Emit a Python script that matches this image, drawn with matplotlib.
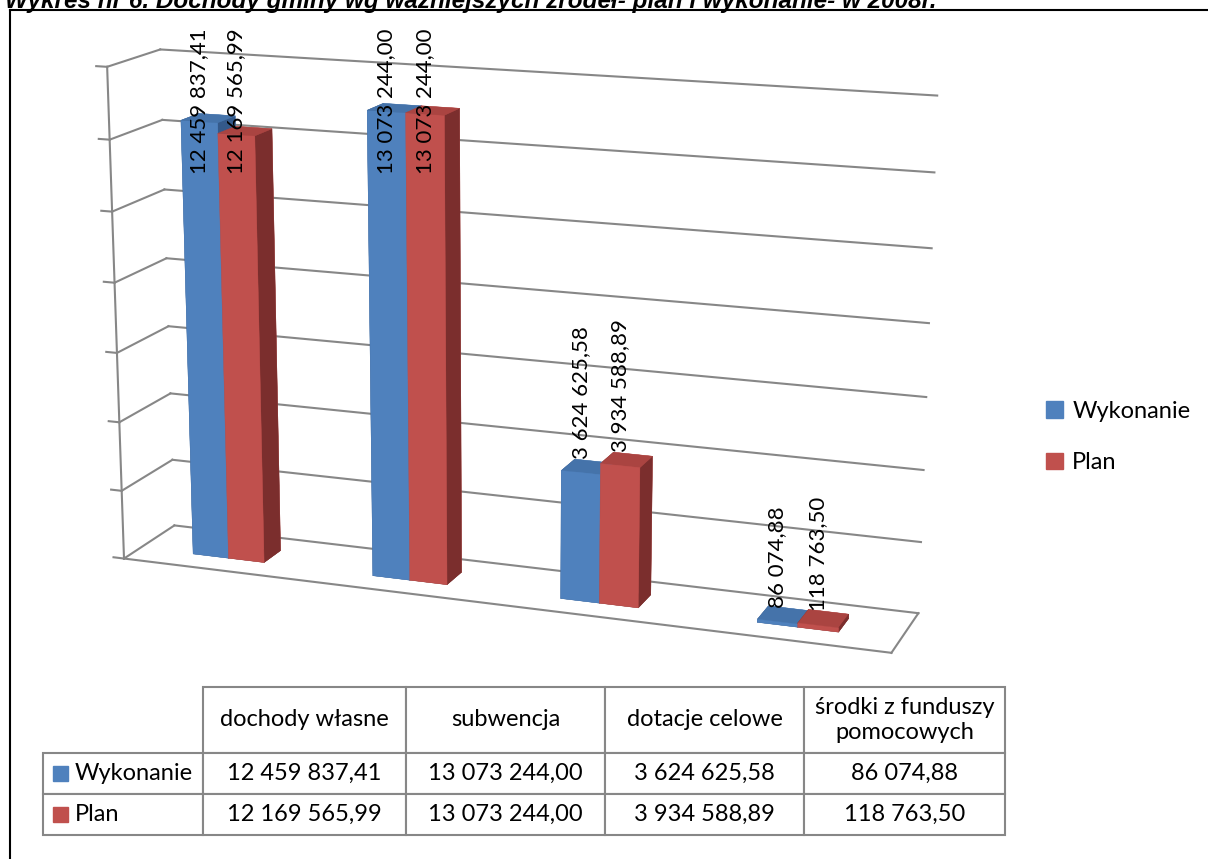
import numpy as np
import matplotlib.pyplot as plt
from matplotlib.patches import Patch, Rectangle
from matplotlib.lines import Line2D
from matplotlib.table import Table
from mpl_toolkits.mplot3d import proj3d

# dane
categories = ['dochody własne', 'subwencja', 'dotacje celowe', 'środki z funduszy\npomocowych']
series_names = ['Wykonanie', 'Plan']
wykonanie = [12459837.41, 13073244.00, 3624625.58, 86074.88]
plan = [12169565.99, 13073244.00, 3934588.89, 118763.50]
z_ticks = np.arange(0, 14_000_001, 2_000_000)

title = 'Wykres nr 6. Dochody gminy wg ważniejszych źródeł- plan i wykonanie- w 2008r.'

# kolory: przód, góra, bok
blue = ('#4F81BD', '#4573AA', '#34598A')
red = ('#C0504D', '#AA4441', '#7B2E2D')
grid_col = '#878787'
FONT = ['Lato', 'DejaVu Sans']


def fmt(v):
    return f'{v:,.2f}'.replace(',', ' ').replace('.', ',')


W, H = 1208, 859
fig = plt.figure(figsize=(W / 100, H / 100), dpi=100)

# ramka i tytuł (ucięty u góry)
fig.add_artist(Line2D([10 / W, 10 / W], [0, 1 - 10 / H], color='black', lw=1.5))
fig.add_artist(Line2D([10 / W, 1], [1 - 10 / H, 1 - 10 / H], color='black', lw=1.5))
fig.text(5 / W, 1 - 8 / H, title, fontsize=17.5, fontweight='bold', fontstyle='italic',
         family='Liberation Sans', va='baseline', ha='left')

# wykres 3D (kwadratowe pole 1000 px)
side = 1000
cx, cy = 497, H - 352
ax = fig.add_axes([(cx - side / 2) / W, (cy - side / 2) / H, side / W, side / H],
                  projection='3d', computed_zorder=False)
ax.set_proj_type('persp', focal_length=0.55)
ax.view_init(elev=14.5, azim=-70)
ax.set_xlim(0, len(categories))
ax.set_ylim(0, 1)
ax.set_zlim(0, z_ticks[-1])
ax.set_box_aspect((4, 0.58, 2.54), zoom=0.95)
ax.set_axis_off()

n = len(categories)
lines = []
# siatka na ścianach
for z in z_ticks:
    lines += ax.plot([0, n], [1, 1], [z, z], color=grid_col, lw=1.5, zorder=1)
    lines += ax.plot([0, 0], [0, 1], [z, z], color=grid_col, lw=1.5, zorder=1)
    lines += ax.plot([0, -0.06], [0, 0], [z, z], color=grid_col, lw=1.5, zorder=1)
lines += ax.plot([0, 0], [0, 0], [0, z_ticks[-1]], color=grid_col, lw=1.5, zorder=1)
lines += ax.plot([0, n], [0, 0], [0, 0], color=grid_col, lw=1.5, zorder=1)
lines += ax.plot([n, n], [0, 1], [0, 0], color=grid_col, lw=1.5, zorder=1)
for ln in lines:
    ln.set_clip_on(False)

bw = 0.2
y0, dy = 0.325, 0.35
xs, hs, cols = [], [], []
for i in range(n):
    for k, (vals, c) in enumerate([(wykonanie, blue), (plan, red)]):
        xs.append(i + 0.5 - bw + k * bw)
        hs.append(vals[i])
        # kolejność ścian: -z, +z, -y, +y, -x, +x
        cols += [c[2], c[1], c[0], c[0], c[2], c[2]]
bars = ax.bar3d(xs, [y0] * len(xs), [0] * len(xs), bw, dy, hs, color=cols,
                shade=False, edgecolor=cols, linewidth=0.3, zorder=2)
bars.set_clip_on(False)

# etykiety danych
fig.canvas.draw()
renderer = fig.canvas.get_renderer()
M = ax.get_proj()
top_limit = H - 28
for x, h in zip(xs, hs):
    px, py, _ = proj3d.proj_transform(x + bw / 2, y0, h, M)
    dx_, dy_ = ax.transData.transform((px, py))
    t = fig.text(dx_ / W, (dy_ + 14) / H, fmt(h), rotation=90, ha='center', va='bottom',
                 fontsize=16, family=FONT)
    bb = t.get_window_extent(renderer)
    if bb.y1 > top_limit:
        t.set_va('top')
        t.set_y(top_limit / H)

# legenda
handles = [Patch(color=blue[0]), Patch(color=red[0])]
fig.legend(handles, series_names, loc='center left', bbox_to_anchor=(1025 / W, 1 - 437 / H),
           frameon=False, handlelength=0.7, handleheight=0.7, handletextpad=0.4,
           labelspacing=1.3, prop={'family': FONT, 'size': 17})

# tabela danych
tab_ax = fig.add_axes([43 / W, 24 / H, 962 / W, 148 / H])
tab_ax.set_axis_off()
tab = Table(tab_ax, bbox=[0, 0, 1, 1])
col_w = [160, 203, 199, 199, 201]
row_h = [66, 41, 41]
for j, cat in enumerate(categories):
    tab.add_cell(0, j + 1, col_w[j + 1], row_h[0], text=cat, loc='center')
for r, (name, vals) in enumerate([(series_names[0], wykonanie), (series_names[1], plan)]):
    cell = tab.add_cell(r + 1, 0, col_w[0], row_h[r + 1], text=name, loc='left')
    cell.PAD = 0.2
    for j, v in enumerate(vals):
        tab.add_cell(r + 1, j + 1, col_w[j + 1], row_h[r + 1], text=fmt(v), loc='center')
tab.auto_set_font_size(False)
for cell in tab.get_celld().values():
    cell.set_edgecolor(grid_col)
    cell.set_linewidth(1.5)
    cell.get_text().set_fontsize(17)
    cell.get_text().set_family(FONT)
tab_ax.add_table(tab)
tot_h = sum(row_h)
for r, c in enumerate([blue[0], red[0]]):
    yc = (sum(row_h[r + 2:]) + row_h[r + 1] / 2) / tot_h
    tab_ax.add_patch(Rectangle((10 / 962, yc - 7.5 / tot_h), 15 / 962, 15 / tot_h,
                               color=c, transform=tab_ax.transAxes))

fig.savefig('out.png', dpi=100)
